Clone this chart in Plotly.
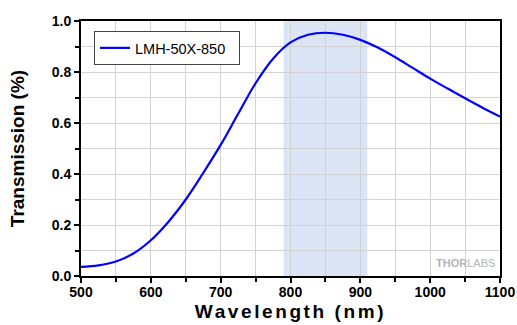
import plotly.graph_objects as go

wavelength = [500, 525, 550, 575, 600, 625, 650, 675, 700, 725, 750, 775, 800,
              825, 850, 875, 900, 925, 950, 975, 1000, 1025, 1050, 1075, 1100]
transmission = [0.036, 0.042, 0.057, 0.088, 0.140, 0.212, 0.300, 0.404, 0.514, 0.636, 0.756, 0.852, 0.916,
                0.946, 0.954, 0.946, 0.926, 0.896, 0.858, 0.816, 0.774, 0.735, 0.697, 0.660, 0.625]
series_name = "LMH-50X-850"
band = [790, 910]

fig = go.Figure()
fig.add_vrect(x0=band[0], x1=band[1], fillcolor="#dbe5f6", line_width=0, layer="below")
fig.add_trace(go.Scatter(x=wavelength, y=transmission, mode="lines", name=series_name + "\u00a0\u00a0",
                         line=dict(color="#0000ff", width=2.2, shape="spline")))

tickfont = dict(family="Liberation Sans", size=14, color="black", weight="bold")
fig.update_layout(
    width=517, height=325,
    margin=dict(l=81, r=17, t=21, b=49),
    paper_bgcolor="white", plot_bgcolor="white",
    showlegend=True,
    legend=dict(x=0.031, y=0.961, xanchor="left", yanchor="top",
                bordercolor="#444", borderwidth=1, bgcolor="white",
                font=dict(family="Liberation Sans", size=14.5, color="black")),
    xaxis=dict(range=[500, 1100], dtick=100, tick0=500, ticks="outside", ticklen=5, tickwidth=1.5,
               tickcolor="black", showline=True, linecolor="black", linewidth=2, mirror=True,
               showgrid=True, gridcolor="#d3d3d3", gridwidth=1.2, zeroline=False,
               tickfont=tickfont, automargin=False, ticklabelstandoff=-3,
               minor=dict(dtick=50, ticks="outside", ticklen=4, tickcolor="black", showgrid=True,
                          gridcolor="#d3d3d3", gridwidth=1.2),
               title=dict(text='<span style="letter-spacing:2.6px">Wavelength (nm)</span>',
                          font=dict(family="Liberation Sans", size=19, color="black", weight="bold"),
                          standoff=6)),
    yaxis=dict(range=[0, 1.0], dtick=0.2, tick0=0, tickformat=".1f", ticks="outside", ticklen=5,
               tickwidth=1.5, tickcolor="black", showline=True, linecolor="black", linewidth=2,
               mirror=True, showgrid=True, gridcolor="#d3d3d3", gridwidth=1.2, zeroline=False,
               tickfont=tickfont, automargin=False,
               minor=dict(dtick=0.1, ticks="outside", ticklen=4, tickcolor="black", showgrid=True,
                          gridcolor="#d3d3d3", gridwidth=1.2),
               title=dict(text="Transmission (%)",
                          font=dict(family="Liberation Sans", size=19, color="black", weight="bold"),
                          standoff=22)),
)
fig.add_annotation(x=0.993, y=0.05, xref="paper", yref="paper", xanchor="right", yanchor="middle",
                   text="<b>THOR</b>LABS", showarrow=False,
                   font=dict(family="Liberation Sans", size=11, color="#b5b5b5"))

fig.write_html("out.html")
